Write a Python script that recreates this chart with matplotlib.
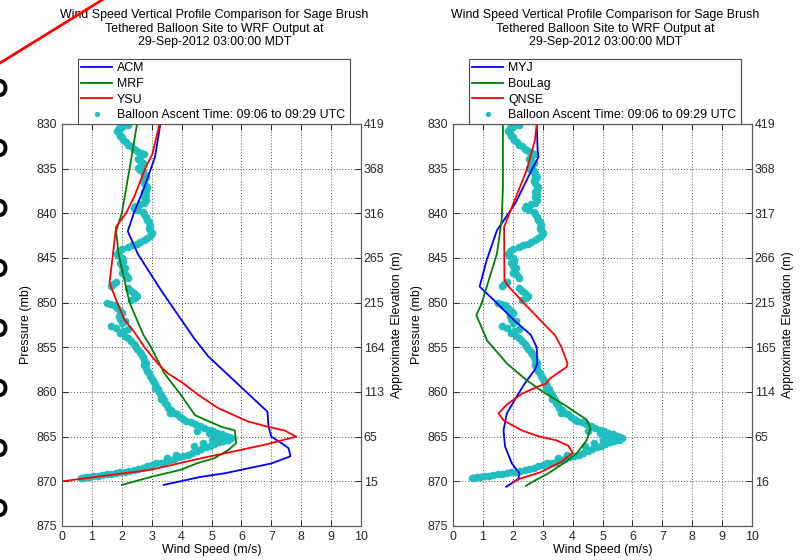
import numpy as np
import matplotlib.pyplot as plt
from matplotlib.lines import Line2D
from matplotlib.patches import Ellipse

plt.rcParams['font.family'] = ['Liberation Sans', 'DejaVu Sans']
plt.rcParams['font.size'] = 8.9

# axis ticks
p_ticks = [830, 835, 840, 845, 850, 855, 860, 865, 870, 875]
ws_ticks = [0, 1, 2, 3, 4, 5, 6, 7, 8, 9, 10]
elev_left = ['419', '368', '316', '265', '215', '164', '113', '65', '15', '']
elev_right = ['419', '368', '317', '266', '215', '165', '114', '65', '16', '']

title_txt = ('Wind Speed Vertical Profile Comparison for Sage Brush\n'
             'Tethered Balloon Site to WRF Output at\n'
             '29-Sep-2012 03:00:00 MDT')
balloon_label = 'Balloon Ascent Time: 09:06 to 09:29 UTC'

# balloon observations (wind speed m/s, pressure mb), same for both panels
balloon_obs = [
    (2.1, 830.0), (2.2, 830.1), (2.0, 830.3), (1.9, 830.5), (1.85, 830.8),
    (1.9, 831.0), (1.95, 831.3), (2.0, 831.5), (2.05, 831.8), (2.15, 832.0),
    (2.2, 832.3), (2.3, 832.5), (2.4, 832.8), (2.5, 833.0), (2.65, 833.2),
    (2.75, 833.4), (2.6, 833.6), (2.55, 833.9), (2.6, 834.1), (2.7, 834.4),
    (2.65, 834.6), (2.55, 834.9), (2.6, 835.1), (2.7, 835.3), (2.75, 835.6),
    (2.8, 835.9), (2.75, 836.1), (2.7, 836.4), (2.75, 836.6), (2.8, 836.9),
    (2.85, 837.1), (2.8, 837.4), (2.75, 837.6), (2.8, 837.9), (2.75, 838.2),
    (2.8, 838.5), (2.75, 838.8), (2.6, 839.0), (2.45, 839.2), (2.4, 839.4),
    (2.55, 839.6), (2.7, 839.9), (2.75, 840.1), (2.8, 840.4), (2.85, 840.7),
    (2.9, 841.0), (2.95, 841.3), (2.9, 841.6), (2.95, 841.9), (3.0, 842.2),
    (2.95, 842.5), (2.85, 842.8), (2.75, 843.0), (2.6, 843.2), (2.5, 843.4),
    (2.35, 843.6), (2.2, 843.8), (2.0, 844.0), (1.9, 844.2), (1.85, 844.5),
    (1.9, 844.8), (2.0, 845.0), (2.05, 845.3), (1.95, 845.6), (2.0, 845.9),
    (2.1, 846.1), (2.05, 846.4), (2.0, 846.7), (2.15, 846.9), (2.2, 847.2),
    (1.8, 847.7), (1.7, 847.9), (1.65, 848.1), (2.2, 848.4), (2.3, 848.7),
    (2.4, 848.9), (2.5, 849.2), (2.45, 849.5), (2.3, 849.7), (1.5, 850.0),
    (1.6, 850.1), (1.75, 850.3), (1.85, 850.6), (1.95, 850.9), (2.0, 851.2),
    (1.9, 851.5), (1.95, 851.8), (2.1, 852.0), (2.0, 852.3), (1.65, 852.6),
    (1.8, 852.8), (2.2, 853.0), (2.05, 853.2), (1.95, 853.4), (2.1, 853.7),
    (2.2, 854.0), (2.3, 854.3), (2.4, 854.6), (2.45, 854.9), (2.5, 855.2),
    (2.6, 855.5), (2.65, 855.8), (2.7, 856.1), (2.75, 856.4), (2.8, 856.7),
    (2.75, 857.0), (2.8, 857.3), (2.85, 857.6), (2.9, 857.9), (2.95, 858.2),
    (3.0, 858.5), (3.05, 858.8), (3.1, 859.1), (3.15, 859.4), (3.2, 859.7),
    (3.25, 860.0), (3.3, 860.3), (3.35, 860.6), (3.4, 860.9), (3.45, 861.2),
    (3.5, 861.5), (3.55, 861.8), (3.65, 862.0), (3.75, 862.3), (3.85, 862.5),
    (3.95, 862.8), (4.05, 863.0), (4.15, 863.2), (4.3, 863.4), (4.45, 863.6),
    (4.6, 863.8), (4.75, 864.0), (4.9, 864.2), (5.05, 864.4), (5.2, 864.6),
    (5.35, 864.7), (5.5, 864.9), (5.6, 865.0), (5.65, 865.2), (5.55, 865.4),
    (5.4, 865.5), (5.25, 865.6), (5.1, 865.8), (4.95, 866.0), (4.8, 866.2),
    (4.65, 866.4), (4.5, 866.6), (4.35, 866.8), (4.2, 867.0), (4.05, 867.2),
    (3.9, 867.3), (3.75, 867.5), (3.6, 867.6), (3.45, 867.8), (3.3, 867.9),
    (3.15, 868.0), (3.0, 868.2), (2.85, 868.3), (2.7, 868.5), (2.55, 868.6),
    (2.4, 868.7), (2.25, 868.8), (2.1, 868.9), (1.95, 869.0), (1.8, 869.1),
    (1.65, 869.2), (1.5, 869.2), (1.35, 869.3), (1.2, 869.4), (1.05, 869.4),
    (0.9, 869.5), (0.8, 869.5), (0.7, 869.6), (0.65, 869.6),
    (4.9, 864.6), (5.1, 864.9), (5.3, 865.1), (5.0, 865.4), (4.7, 865.7),
    (4.4, 866.1), (4.5, 864.4), (5.4, 865.3), (3.8, 867.0), (3.5, 867.4),
    (3.6, 862.3), (3.3, 860.8), (3.1, 859.6),
]
balloon_ws = [o[0] for o in balloon_obs]
balloon_p = [o[1] for o in balloon_obs]

# left panel models
acm_ws = [3.29, 3.11, 2.76, 2.4, 2.2, 2.53, 2.87, 3.31, 3.76, 4.42, 4.89,
          6.1, 6.87, 6.91, 7.0, 7.33, 7.58, 7.64, 7.0, 5.44, 4.64, 3.4]
acm_p = [830, 833.7, 837, 840, 842, 844.5, 846.3, 848.6, 850.8, 854, 856,
         859.8, 862.2, 863.9, 865, 865.7, 866.3, 867.2, 868, 869.1, 869.5, 870.4]
mrf_ws = [2.51, 2.26, 2.0, 1.81, 1.89, 2.26, 2.72, 2.98, 3.42, 3.95, 4.45,
          5.33, 5.78, 5.83, 5.56, 5.1, 4.5, 3.98, 2.98, 2.0]
mrf_p = [830, 835, 840, 842, 844.5, 850, 853.6, 855, 857.9, 860.2, 862.6,
         863.9, 864.3, 865.7, 866.5, 867.4, 868, 868.7, 869.5, 870.4]
ysu_ws = [3.26, 3.03, 2.78, 2.42, 2.14, 1.81, 1.59, 1.81, 2.09, 2.42, 2.76,
          3.2, 3.53, 4.0, 4.55, 5.22, 6.22, 6.89, 7.44, 7.83, 6.78, 5.67,
          4.67, 2.98, 0.0]
ysu_p = [830, 833.3, 835, 838.1, 840, 841.5, 847.8, 849.7, 851.9, 853.3, 855,
         856.8, 857.9, 858.9, 860.3, 861.8, 863.3, 863.9, 864.3, 865, 865.9, 866.7,
         867.4, 868.7, 870]

# right panel models
myj_ws = [2.8, 2.83, 2.86, 2.58, 2.08, 1.47, 1.13, 0.89, 1.36, 2.02, 2.6,
          2.8, 2.82, 2.74, 2.41, 2.13, 1.8, 1.69, 1.74, 1.97, 2.22, 2.19,
          1.97, 1.78]
myj_p = [830, 832.9, 833.7, 835.5, 838.9, 841.9, 845.2, 848.2, 849.7, 851.9, 853.6,
         855, 856.8, 857.5, 859, 860.5, 862.4, 864.3, 866.1, 868, 869.1, 869.7,
         870.2, 870.6]
boulag_ws = [1.67, 1.67, 1.63, 1.47, 1.13, 0.97, 0.78, 1.05, 1.13, 1.8, 2.47,
             3.02, 3.8, 4.47, 4.6, 4.47, 4.13, 3.69, 3.19, 2.69, 2.44]
boulag_p = [830, 837, 840.7, 844.5, 848.2, 850, 851.4, 853.5, 854.2, 856.8, 858.7,
            860, 861.6, 863.1, 864.1, 865.4, 866.9, 868, 869.1, 870, 870.5]
qnse_ws = [2.8, 2.74, 2.47, 2.02, 1.71, 1.72, 1.86, 2.47, 3.13, 3.4, 3.63,
           3.83, 3.8, 3.24, 3.1, 2.9, 2.3, 1.8, 1.52, 1.7, 2.3, 2.9, 3.45,
           3.85, 4.0, 3.63, 2.91, 2.24, 2.02]
qnse_p = [830, 831.8, 835.1, 838.9, 841.5, 847.5, 848.2, 850.4, 852.7, 853.6, 855,
          856.8, 857.2, 858.5, 859.1, 859.3, 860.2, 861.4, 862.4, 863.2, 864.3,
          865.0, 865.4, 866.0, 866.8, 867.8, 869, 869.7, 870.1]

panels = [
    dict(left=62, names=['ACM', 'MRF', 'YSU'],
         series=[(acm_ws, acm_p), (mrf_ws, mrf_p), (ysu_ws, ysu_p)],
         elev=elev_left),
    dict(left=453, names=['MYJ', 'BouLag', 'QNSE'],
         series=[(myj_ws, myj_p), (boulag_ws, boulag_p), (qnse_ws, qnse_p)],
         elev=elev_right),
]
colors = ['#0000ff', '#008000', '#ff0000']
cyan = '#1fbfbf'

W, H = 808, 560
fig = plt.figure(figsize=(W / 100, H / 100), dpi=100)

for pn in panels:
    ax = fig.add_axes([pn['left'] / W, 1 - 526 / H, 299 / W, 402 / H])
    handles = []
    for (ws, p), c in zip(pn['series'], colors):
        h, = ax.plot(ws, p, color=c, lw=1.3, zorder=3)
        handles.append(h)
    hb, = ax.plot(balloon_ws, balloon_p, 'o', color=cyan, ms=5.5, mew=0, zorder=2)
    handles.append(hb)

    ax.set_xlim(0, 10)
    ax.set_ylim(875, 830)
    ax.set_xticks(ws_ticks)
    ax.set_yticks(p_ticks)
    ax.grid(True, linestyle=(0, (1, 2)), color='0.3', linewidth=0.7)
    ax.tick_params(direction='in', length=4, top=True, width=0.7, colors='0.15')
    for s in ax.spines.values():
        s.set_color('0.35')
        s.set_linewidth(0.8)
    ax.set_xlabel('Wind Speed (m/s)', labelpad=1)
    ax.set_ylabel('Pressure (mb)', labelpad=3)

    ax2 = ax.twinx()
    ax2.set_ylim(875, 830)
    ax2.set_yticks(p_ticks)
    ax2.set_yticklabels(pn['elev'])
    ax2.tick_params(direction='in', length=4, width=0.7, colors='0.15', pad=2)
    ax2.set_ylabel('Approximate Elevation (m)', labelpad=5)
    for s in ax2.spines.values():
        s.set_color('0.35')
        s.set_linewidth(0.8)

    ax.text(0.51, 1.237, title_txt, transform=ax.transAxes, ha='center',
            va='center', linespacing=1.17)

    leg = ax.legend(handles, pn['names'] + [balloon_label], loc='lower left',
                    bbox_to_anchor=(0.055, 1.0, 0.908, 0.1), mode='expand',
                    borderaxespad=0, fancybox=False, edgecolor='0.3',
                    framealpha=1, handlelength=2.5, handletextpad=0.4,
                    labelspacing=0.3, borderpad=0.22, markerscale=0.7)
    leg.get_frame().set_linewidth(0.8)

# slide leftovers around the chart: red pointer line and clipped rings
fig.add_artist(Line2D([0, 102 / W], [1 - 63 / H, 1.0], transform=fig.transFigure,
                      color='#ff0000', lw=2))
for y in [88, 148, 208, 268, 328, 388, 448, 508]:
    fig.add_artist(Ellipse((0, 1 - y / H), 11 / W, 14 / H,
                           transform=fig.transFigure, fill=False,
                           edgecolor='k', lw=2.8))

fig.savefig('out.png', dpi=100)
